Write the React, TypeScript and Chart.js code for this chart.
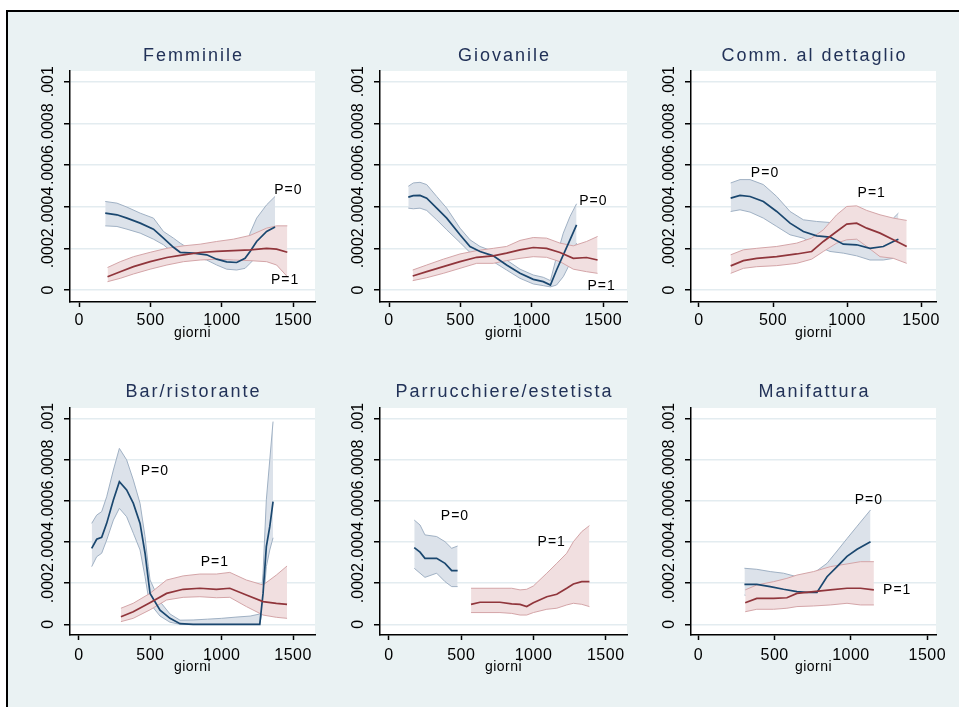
import React, { useEffect, useRef } from "react";
import { Chart, registerables } from "chart.js";

Chart.register(...registerables);

// ---------- axis ticks & texts ----------
const xTicks = [0, 500, 1000, 1500];
const xTickLabels = ["0", "500", "1000", "1500"];
const yTicks = [0, 0.0002, 0.0004, 0.0006, 0.0008, 0.001];
const yTickLabels = ["0", ".0002", ".0004", ".0006", ".0008", ".001"];
const xAxisTitle = "giorni";
const seriesLabels = ["P=0", "P=1"];
const panelTitles = [
  "Femminile",
  "Giovanile",
  "Comm. al dettaglio",
  "Bar/ristorante",
  "Parrucchiere/estetista",
  "Manifattura",
];

// ---------- Femminile ----------
const femX0 = [182, 264, 334, 427, 520, 590, 660, 707, 800, 893, 963, 1033, 1103, 1162, 1197, 1243, 1313, 1372];
const femM0 = [3.69e-4, 3.61e-4, 3.45e-4, 3.21e-4, 2.92e-4, 2.49e-4, 2.05e-4, 1.81e-4, 1.77e-4, 1.69e-4, 1.48e-4, 1.35e-4, 1.32e-4, 1.52e-4, 1.85e-4, 2.33e-4, 2.81e-4, 3.02e-4];
const femHi0 = [4.25e-4, 4.17e-4, 3.98e-4, 3.69e-4, 3.45e-4, 2.81e-4, 2.49e-4, 2.25e-4, 1.85e-4, 1.8e-4, 1.69e-4, 1.6e-4, 1.6e-4, 1.77e-4, 2.73e-4, 3.45e-4, 4.09e-4, 4.49e-4];
const femLo0 = [3.08e-4, 3.05e-4, 2.92e-4, 2.73e-4, 2.44e-4, 2.17e-4, 1.77e-4, 1.6e-4, 1.57e-4, 1.44e-4, 1.2e-4, 1.0e-4, 0.96e-4, 1.04e-4, 1.28e-4, 1.6e-4, 2.09e-4, 2.4e-4];
const femX1 = [198, 287, 380, 497, 614, 730, 847, 963, 1080, 1197, 1313, 1383, 1458];
const femM1 = [0.64e-4, 0.88e-4, 1.12e-4, 1.36e-4, 1.56e-4, 1.69e-4, 1.8e-4, 1.85e-4, 1.89e-4, 1.93e-4, 2.0e-4, 1.96e-4, 1.81e-4];
const femHi1 = [1.08e-4, 1.36e-4, 1.6e-4, 1.81e-4, 2.0e-4, 2.12e-4, 2.2e-4, 2.33e-4, 2.44e-4, 2.62e-4, 2.97e-4, 3.08e-4, 3.08e-4];
const femLo1 = [0.4e-4, 0.56e-4, 0.77e-4, 1.0e-4, 1.2e-4, 1.36e-4, 1.44e-4, 1.48e-4, 1.44e-4, 1.41e-4, 1.36e-4, 1.2e-4, 0.64e-4];
const femLabels = [[1465, 4.8e-4], [1442, 0.48e-4]];

// ---------- Giovanile ----------
const gioX0 = [135, 170, 217, 264, 334, 404, 497, 567, 637, 730, 823, 917, 1010, 1080, 1130, 1173, 1220, 1267, 1313];
const gioM0 = [4.46e-4, 4.53e-4, 4.54e-4, 4.41e-4, 3.93e-4, 3.45e-4, 2.65e-4, 2.09e-4, 1.85e-4, 1.64e-4, 1.2e-4, 0.8e-4, 0.51e-4, 0.4e-4, 0.24e-4, 0.96e-4, 1.69e-4, 2.41e-4, 3.13e-4];
const gioHi0 = [4.98e-4, 5.14e-4, 5.17e-4, 5.06e-4, 4.49e-4, 3.93e-4, 2.97e-4, 2.41e-4, 2.09e-4, 1.85e-4, 1.44e-4, 1.0e-4, 0.72e-4, 0.61e-4, 0.45e-4, 1.6e-4, 2.73e-4, 3.53e-4, 4.14e-4];
const gioLo0 = [3.93e-4, 3.9e-4, 3.93e-4, 3.82e-4, 3.37e-4, 2.89e-4, 2.28e-4, 1.8e-4, 1.56e-4, 1.36e-4, 0.96e-4, 0.56e-4, 0.29e-4, 0.21e-4, 0.15e-4, 0.24e-4, 0.64e-4, 1.28e-4, 2.25e-4];
const gioX1 = [166, 264, 380, 497, 614, 730, 823, 917, 1010, 1103, 1197, 1290, 1383, 1460];
const gioM1 = [0.67e-4, 0.88e-4, 1.12e-4, 1.36e-4, 1.57e-4, 1.64e-4, 1.77e-4, 1.93e-4, 2.04e-4, 2.0e-4, 1.8e-4, 1.52e-4, 1.56e-4, 1.44e-4];
const gioHi1 = [0.96e-4, 1.2e-4, 1.48e-4, 1.73e-4, 1.89e-4, 2.0e-4, 2.09e-4, 2.38e-4, 2.52e-4, 2.49e-4, 2.25e-4, 2.12e-4, 2.33e-4, 2.57e-4];
const gioLo1 = [0.45e-4, 0.59e-4, 0.8e-4, 1.04e-4, 1.28e-4, 1.28e-4, 1.41e-4, 1.52e-4, 1.6e-4, 1.57e-4, 1.36e-4, 1.0e-4, 0.88e-4, 0.8e-4];
const gioLabels = [[1430, 4.25e-4], [1488, 0.19e-4]];

// ---------- Comm. al dettaglio ----------
const comX0 = [214, 277, 345, 435, 525, 615, 705, 795, 885, 975, 1065, 1155, 1245, 1313, 1347];
const comM0 = [4.41e-4, 4.54e-4, 4.49e-4, 4.25e-4, 3.77e-4, 3.21e-4, 2.81e-4, 2.6e-4, 2.54e-4, 2.2e-4, 2.17e-4, 2.0e-4, 2.09e-4, 2.33e-4, 2.44e-4];
const comHi0 = [5.14e-4, 5.3e-4, 5.3e-4, 5.06e-4, 4.49e-4, 3.77e-4, 3.37e-4, 3.29e-4, 3.24e-4, 2.9e-4, 2.73e-4, 2.65e-4, 2.89e-4, 3.45e-4, 3.69e-4];
const comLo0 = [3.77e-4, 3.85e-4, 3.74e-4, 3.45e-4, 3.05e-4, 2.65e-4, 2.49e-4, 2.12e-4, 1.85e-4, 1.77e-4, 1.64e-4, 1.44e-4, 1.44e-4, 1.52e-4, 1.6e-4];
const comX1 = [214, 300, 390, 525, 660, 761, 840, 930, 998, 1065, 1133, 1223, 1313, 1403];
const comM1 = [1.16e-4, 1.41e-4, 1.52e-4, 1.6e-4, 1.73e-4, 1.85e-4, 2.33e-4, 2.81e-4, 3.16e-4, 3.21e-4, 2.97e-4, 2.73e-4, 2.41e-4, 2.09e-4];
const comHi1 = [1.69e-4, 1.93e-4, 2.0e-4, 2.09e-4, 2.25e-4, 2.49e-4, 2.89e-4, 3.61e-4, 4.01e-4, 4.04e-4, 3.82e-4, 3.61e-4, 3.45e-4, 3.34e-4];
const comLo1 = [0.8e-4, 1.04e-4, 1.12e-4, 1.17e-4, 1.28e-4, 1.48e-4, 1.85e-4, 2.25e-4, 2.41e-4, 2.44e-4, 2.09e-4, 1.6e-4, 1.52e-4, 1.28e-4];
const comLabels = [[446, 5.59e-4], [1167, 4.65e-4]];

// ---------- Bar/ristorante ----------
const barX0 = [89, 124, 159, 194, 241, 283, 334, 381, 428, 463, 486, 498, 568, 638, 708, 800, 900, 1000, 1100, 1200, 1267, 1290, 1313, 1337, 1360];
const barM0 = [3.69e-4, 4.13e-4, 4.22e-4, 4.9e-4, 6.03e-4, 6.92e-4, 6.52e-4, 5.87e-4, 4.9e-4, 3.45e-4, 2.15e-4, 1.5e-4, 0.69e-4, 0.29e-4, 0.03e-4, 0, 0, 0, 0, 0, 0, 1.5e-4, 3.77e-4, 4.74e-4, 5.95e-4];
const barHi0 = [4.9e-4, 5.3e-4, 5.47e-4, 6.19e-4, 7.49e-4, 8.54e-4, 7.98e-4, 7.0e-4, 5.87e-4, 4.25e-4, 2.8e-4, 2.15e-4, 1.1e-4, 0.5e-4, 0.2e-4, 0.21e-4, 0.25e-4, 0.29e-4, 0.35e-4, 0.4e-4, 0.5e-4, 2.48e-4, 6.04e-4, 7.98e-4, 9.84e-4];
const barLo0 = [2.8e-4, 3.28e-4, 3.45e-4, 4.09e-4, 5.06e-4, 5.63e-4, 5.22e-4, 4.42e-4, 3.61e-4, 2.31e-4, 1.34e-4, 1.0e-4, 0.4e-4, 0.1e-4, 0, 0, 0, 0, 0, 0, 0, 0.86e-4, 2.8e-4, 3.61e-4, 4.2e-4];
const barX1 = [294, 380, 497, 614, 730, 847, 963, 1057, 1173, 1290, 1383, 1458];
const barM1 = [0.37e-4, 0.61e-4, 1.05e-4, 1.5e-4, 1.7e-4, 1.75e-4, 1.7e-4, 1.75e-4, 1.42e-4, 1.1e-4, 1.02e-4, 0.97e-4];
const barHi1 = [0.78e-4, 1.02e-4, 1.5e-4, 2.15e-4, 2.35e-4, 2.44e-4, 2.44e-4, 2.52e-4, 2.15e-4, 1.91e-4, 2.39e-4, 2.83e-4];
const barLo1 = [0.13e-4, 0.29e-4, 0.7e-4, 1.18e-4, 1.31e-4, 1.34e-4, 1.29e-4, 1.31e-4, 0.86e-4, 0.45e-4, 0.34e-4, 0.29e-4];
const barLabels = [[532, 7.44e-4], [952, 3.04e-4]];

// ---------- Parrucchiere/estetista ----------
const parX0 = [175, 215, 249, 330, 388, 434, 475];
const parM0 = [3.72e-4, 3.5e-4, 3.2e-4, 3.2e-4, 2.96e-4, 2.61e-4, 2.61e-4];
const parHi0 = [5.06e-4, 4.82e-4, 4.34e-4, 4.26e-4, 4.01e-4, 3.69e-4, 3.8e-4];
const parLo0 = [2.72e-4, 2.48e-4, 2.28e-4, 2.48e-4, 2.07e-4, 1.83e-4, 1.83e-4];
const parX1 = [568, 630, 768, 849, 907, 953, 999, 1092, 1161, 1230, 1276, 1334, 1387];
const parM1 = [0.97e-4, 1.07e-4, 1.07e-4, 0.99e-4, 0.97e-4, 0.86e-4, 1.05e-4, 1.34e-4, 1.46e-4, 1.75e-4, 1.96e-4, 2.07e-4, 2.07e-4];
const parHi1 = [1.75e-4, 1.75e-4, 1.75e-4, 1.75e-4, 1.67e-4, 1.7e-4, 1.86e-4, 2.48e-4, 2.96e-4, 3.45e-4, 4.01e-4, 4.5e-4, 4.79e-4];
const parLo1 = [0.57e-4, 0.57e-4, 0.57e-4, 0.53e-4, 0.45e-4, 0.45e-4, 0.57e-4, 0.73e-4, 0.78e-4, 0.94e-4, 1.02e-4, 0.97e-4, 0.86e-4];
const parLabels = [[457, 5.23e-4], [1126, 4.01e-4]];

// ---------- Manifattura ----------
const manX0 = [302, 383, 471, 558, 646, 712, 777, 843, 909, 974, 1040, 1128];
const manM0 = [1.94e-4, 1.94e-4, 1.83e-4, 1.7e-4, 1.59e-4, 1.55e-4, 1.55e-4, 2.31e-4, 2.8e-4, 3.3e-4, 3.64e-4, 4.01e-4];
const manHi0 = [2.72e-4, 2.67e-4, 2.56e-4, 2.48e-4, 2.31e-4, 2.3e-4, 2.6e-4, 2.96e-4, 3.56e-4, 4.16e-4, 4.76e-4, 5.55e-4];
const manLo0 = [1.42e-4, 1.26e-4, 1.18e-4, 1.02e-4, 0.94e-4, 1.02e-4, 1.1e-4, 1.6e-4, 2.0e-4, 2.3e-4, 2.5e-4, 2.64e-4];
const manX1 = [307, 383, 493, 580, 646, 755, 865, 974, 1062, 1150];
const manM1 = [1.05e-4, 1.26e-4, 1.26e-4, 1.29e-4, 1.5e-4, 1.59e-4, 1.67e-4, 1.75e-4, 1.75e-4, 1.67e-4];
const manHi1 = [1.67e-4, 1.91e-4, 2.07e-4, 2.23e-4, 2.39e-4, 2.56e-4, 2.8e-4, 2.93e-4, 3.04e-4, 3.04e-4];
const manLo1 = [0.61e-4, 0.73e-4, 0.73e-4, 0.78e-4, 0.86e-4, 0.89e-4, 0.94e-4, 1.02e-4, 0.94e-4, 0.94e-4];
const manLabels = [[1117, 6.04e-4], [1303, 1.67e-4]];

// ---------- styles ----------
const FONT = '"Liberation Sans", Arial, Helvetica, sans-serif';
const NAVY = "#1a476f";
const NAVY_EDGE = "#a0b1c4";
const NAVY_FILL = "#dce2ea";
const MAROON = "#90353b";
const MAROON_EDGE = "#d4a5a8";
const MAROON_FILL = "#f1dfe0";
const BG = "#eaf2f3";
const GRID = "#e3ecf0";
const AXIS = "#000000";
const TITLE_COLOR = "#223258";

const panelData = [
  { x0: femX0, m0: femM0, hi0: femHi0, lo0: femLo0, x1: femX1, m1: femM1, hi1: femHi1, lo1: femLo1, labels: femLabels },
  { x0: gioX0, m0: gioM0, hi0: gioHi0, lo0: gioLo0, x1: gioX1, m1: gioM1, hi1: gioHi1, lo1: gioLo1, labels: gioLabels },
  { x0: comX0, m0: comM0, hi0: comHi0, lo0: comLo0, x1: comX1, m1: comM1, hi1: comHi1, lo1: comLo1, labels: comLabels },
  { x0: barX0, m0: barM0, hi0: barHi0, lo0: barLo0, x1: barX1, m1: barM1, hi1: barHi1, lo1: barLo1, labels: barLabels },
  { x0: parX0, m0: parM0, hi0: parHi0, lo0: parLo0, x1: parX1, m1: parM1, hi1: parHi1, lo1: parLo1, labels: parLabels },
  { x0: manX0, m0: manM0, hi0: manHi0, lo0: manLo0, x1: manX1, m1: manM1, hi1: manHi1, lo1: manLo1, labels: manLabels },
];

// plot-area placement (page px) and axis ranges
const panelLayout = [
  { left: 70, top: 71, w: 245, h: 231, xMin: -65, xMax: 1652, row: 0 },
  { left: 380, top: 71, w: 247, h: 231, xMin: -63, xMax: 1666, row: 0 },
  { left: 691, top: 71, w: 245, h: 231, xMin: -54, xMax: 1601, row: 0 },
  { left: 70, top: 408, w: 245, h: 227, xMin: -63, xMax: 1654, row: 1 },
  { left: 380, top: 408, w: 247, h: 227, xMin: -62, xMax: 1647, row: 1 },
  { left: 691, top: 408, w: 245, h: 227, xMin: -48, xMax: 1557, row: 1 },
];
const rowLayout = [
  { yMin: -0.0000576, yMax: 0.0010514, tickPad: 4, titlePad: 5, titleGap: 15.2 },
  { yMin: -0.0000519, yMax: 0.00105, tickPad: 6, titlePad: 4, titleGap: 15.5 },
];

const PAD_L = 62;
const PAD_T = 40;
const PAD_R = 25;
const X_AXIS_H = 45;

function pts(xs: number[], ys: number[]) {
  return xs.map((x, i) => ({ x, y: ys[i] }));
}

function Panel({ idx }: { idx: number }) {
  const ref = useRef<HTMLCanvasElement>(null);
  const L = panelLayout[idx];
  const R = rowLayout[L.row];
  const D = panelData[idx];
  const cw = PAD_L + L.w + PAD_R;
  const ch = PAD_T + L.h + X_AXIS_H;

  useEffect(() => {
    const canvas = ref.current!;
    const deco = {
      id: "deco" + idx,
      beforeDraw(chart: any) {
        const { ctx, chartArea: a } = chart;
        ctx.save();
        ctx.fillStyle = "#ffffff";
        ctx.fillRect(a.left, a.top, a.right - a.left, a.bottom - a.top);
        ctx.restore();
        ctx.letterSpacing = "0.5px";
      },
      afterDraw(chart: any) {
        const { ctx, chartArea: a } = chart;
        const xs = chart.scales.x;
        const ys = chart.scales.y;
        // title
        ctx.save();
        ctx.font = `18px ${FONT}`;
        ctx.letterSpacing = "2px";
        ctx.fillStyle = TITLE_COLOR;
        ctx.textAlign = "center";
        ctx.textBaseline = "middle";
        ctx.fillText(panelTitles[idx], (a.left + a.right) / 2 + 1, a.top - R.titleGap);
        ctx.restore();
        // rotated y tick labels
        ctx.save();
        ctx.font = `16px ${FONT}`;
        ctx.letterSpacing = "0px";
        ctx.fillStyle = AXIS;
        ctx.textAlign = "center";
        ctx.textBaseline = "middle";
        yTicks.forEach((v, i) => {
          const py = ys.getPixelForValue(v);
          ctx.save();
          ctx.translate(a.left - 21, py);
          ctx.rotate(-Math.PI / 2);
          ctx.fillText(yTickLabels[i], 0, 0);
          ctx.restore();
        });
        ctx.restore();
        // series labels
        ctx.save();
        ctx.font = `14px ${FONT}`;
        ctx.letterSpacing = "1px";
        ctx.fillStyle = "#000000";
        ctx.textAlign = "center";
        ctx.textBaseline = "middle";
        D.labels.forEach((p, i) => {
          ctx.fillText(seriesLabels[i], xs.getPixelForValue(p[0]), ys.getPixelForValue(p[1]));
        });
        ctx.restore();
      },
    };

    const chart = new Chart(canvas, {
      type: "line",
      data: {
        datasets: [
          { data: pts(D.x1, D.m1), borderColor: MAROON, borderWidth: 1.7, fill: false },
          { data: pts(D.x0, D.m0), borderColor: NAVY, borderWidth: 1.7, fill: false },
          { data: pts(D.x1, D.hi1), borderColor: MAROON_EDGE, borderWidth: 1, fill: false },
          { data: pts(D.x1, D.lo1), borderColor: MAROON_EDGE, borderWidth: 1, fill: "-1", backgroundColor: MAROON_FILL },
          { data: pts(D.x0, D.hi0), borderColor: NAVY_EDGE, borderWidth: 1, fill: false },
          { data: pts(D.x0, D.lo0), borderColor: NAVY_EDGE, borderWidth: 1, fill: "-1", backgroundColor: NAVY_FILL },
        ],
      } as any,
      options: {
        animation: false,
        responsive: false,
        maintainAspectRatio: false,
        events: [],
        layout: { padding: { left: 0, top: PAD_T, right: PAD_R, bottom: 0 } },
        elements: { point: { radius: 0 }, line: { tension: 0 } },
        plugins: {
          legend: { display: false },
          tooltip: { enabled: false },
          title: { display: false },
        },
        scales: {
          x: {
            type: "linear",
            bounds: "data",
            min: L.xMin,
            max: L.xMax,
            afterBuildTicks: (s: any) => {
              s.ticks = xTicks.map((v) => ({ value: v }));
            },
            afterFit: (s: any) => {
              s.height = X_AXIS_H;
              s.paddingLeft = 0;
              s.paddingRight = 0;
            },
            grid: { drawOnChartArea: false, drawTicks: true, tickLength: 5, tickColor: AXIS, tickWidth: 1.5 },
            border: { display: true, color: AXIS, width: 1.5 },
            ticks: {
              autoSkip: false,
              maxRotation: 0,
              minRotation: 0,
              padding: R.tickPad,
              color: AXIS,
              font: { family: FONT, size: 16 },
              callback: (_v: any, i: number) => xTickLabels[i],
            },
            title: {
              display: true,
              text: xAxisTitle,
              color: AXIS,
              font: { family: FONT, size: 14 },
              padding: { top: 0, bottom: R.titlePad },
            },
          },
          y: {
            type: "linear",
            bounds: "data",
            min: R.yMin,
            max: R.yMax,
            afterBuildTicks: (s: any) => {
              s.ticks = yTicks.map((v) => ({ value: v }));
            },
            afterFit: (s: any) => {
              s.width = PAD_L;
              s.paddingTop = 0;
              s.paddingBottom = 0;
            },
            grid: { color: GRID, lineWidth: 1.5, drawTicks: true, tickLength: 6, tickColor: AXIS, tickWidth: 1.5 },
            border: { display: true, color: AXIS, width: 1.5 },
            ticks: { display: false },
          },
        },
      } as any,
      plugins: [deco],
    });
    return () => chart.destroy();
  }, [idx]);

  return (
    <canvas
      ref={ref}
      width={cw}
      height={ch}
      style={{
        position: "absolute",
        left: L.left - PAD_L,
        top: L.top - PAD_T,
        width: cw,
        height: ch,
      }}
    />
  );
}

export default function App() {
  return (
    <div
      style={{
        position: "absolute",
        left: 0,
        top: 0,
        width: 959,
        height: 707,
        overflow: "hidden",
        background: "#ffffff",
      }}
    >
      <div
        style={{
          position: "absolute",
          left: 6,
          top: 10,
          width: 1000,
          height: 800,
          boxSizing: "border-box",
          borderTop: "2px solid #000",
          borderLeft: "2px solid #000",
          background: BG,
        }}
      />
      {panelLayout.map((_, i) => (
        <Panel key={i} idx={i} />
      ))}
    </div>
  );
}
